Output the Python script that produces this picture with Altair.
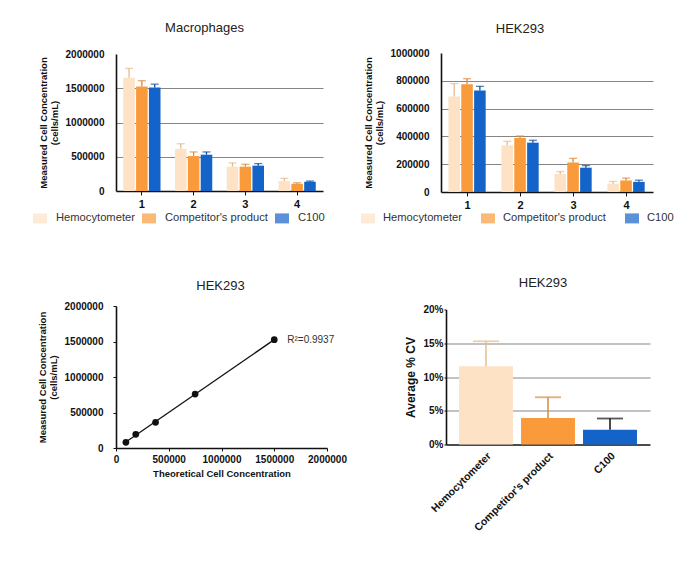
import altair as alt
import pandas as pd

FONT = "Liberation Sans"

dilutions = ["1", "2", "3", "4"]
methods = ["Hemocytometer", "Competitor's product", "C100"]
bar_colors = ["#FDE2C6", "#F99B3B", "#1463C8"]
err_colors_top = ["#E3BD8E", "#D98A3A", "#0D4C9E"]
err_colors_cv = ["#E3BD8E", "#D98A3A", "#111111"]

# Macrophages (cells/mL): mean and upper error
macro_hemo = [1655000, 615000, 355000, 145000]
macro_hemo_sd = [135000, 75000, 55000, 40000]
macro_comp = [1525000, 510000, 355000, 105000]
macro_comp_sd = [85000, 60000, 35000, 15000]
macro_c100 = [1510000, 530000, 370000, 135000]
macro_c100_sd = [50000, 40000, 30000, 10000]

# HEK293 (cells/mL)
hek_hemo = [687000, 336000, 130000, 60000]
hek_hemo_sd = [93000, 29000, 17000, 16000]
hek_comp = [775000, 389000, 213000, 83000]
hek_comp_sd = [40000, 14000, 29000, 17000]
hek_c100 = [730000, 355000, 175000, 73000]
hek_c100_sd = [30000, 17000, 15000, 12000]

# Linearity HEK293
theoretical = [93750, 187500, 375000, 750000, 1500000]
measured = [80000, 192000, 361000, 760000, 1526000]
r2_label = "R²=0.9937"

# Average % CV
cv_mean = [0.116, 0.0394, 0.022]
cv_sd = [0.037, 0.0306, 0.0165]


def bar_frame(means, sds):
    rows = []
    for mi, (m, s) in enumerate(zip(means, sds)):
        for di, d in enumerate(dilutions):
            rows.append({"dilution": d, "method": methods[mi], "value": m[di],
                         "upper": m[di] + s[di], "ecolor": err_colors_top[mi]})
    return pd.DataFrame(rows)


def grouped_panel(df, title, ymax, ystep, width, height, title_dx, title_offset,
                  legend_x, legend_y, col_pad, label_offset):
    yvals = list(range(0, ymax + 1, ystep))
    yaxis = alt.Axis(values=yvals, tickCount=len(yvals), format="d", ticks=False, labelPadding=12,
                     title=["Measured Cell Concentration", "(cells/mL)"],
                     titleLineHeight=11, titlePadding=6,
                     grid=True, gridColor="#858585", gridWidth=1.2,
                     gridOpacity={"condition": {"test": f"datum.value == 0 || datum.value >= {ymax}", "value": 0}, "value": 1})
    yscale = alt.Scale(domain=[0, ymax], nice=False)
    base = alt.Chart(df).encode(
        x=alt.X("dilution:N", sort=dilutions,
                scale=alt.Scale(paddingInner=0.28, paddingOuter=0.14),
                axis=alt.Axis(title=None, labelAngle=0, labelFontSize=11, ticks=True,
                              tickSize=4, tickColor="#111", labelPadding=3, grid=False)),
        xOffset=alt.XOffset("method:N", sort=methods, scale=alt.Scale(paddingInner=0.1)),
    )
    bars = base.mark_bar().encode(
        y=alt.Y("value:Q", scale=yscale, axis=yaxis),
        color=alt.Color("method:N", sort=methods,
                        scale=alt.Scale(domain=methods, range=bar_colors),
                        legend=alt.Legend(orient="none", legendX=legend_x, legendY=legend_y,
                                          direction="horizontal", columns=3, title=None,
                                          symbolType="M-1,-0.714H1V0.714H-1Z", symbolSize=196,
                                          symbolStrokeWidth=0, symbolOpacity=1,
                                          labelFontSize=11.2,
                                          labelFontWeight="normal", labelColor="#333",
                                          labelOffset=label_offset, columnPadding=col_pad)),
    )
    rules = base.mark_rule(strokeWidth=1.3).encode(
        y="value:Q", y2="upper:Q", color=alt.Color("ecolor:N", scale=None))
    caps = base.mark_tick(thickness=1.3, size=8).encode(
        y="upper:Q", color=alt.Color("ecolor:N", scale=None))
    return alt.layer(bars, rules, caps).properties(
        width=width, height=height,
        title=alt.TitleParams(title, fontSize=13, fontWeight="normal", color="#222",
                              frame="group", dx=title_dx, offset=title_offset))


macro_df = bar_frame([macro_hemo, macro_comp, macro_c100],
                     [macro_hemo_sd, macro_comp_sd, macro_c100_sd])
hek_df = bar_frame([hek_hemo, hek_comp, hek_c100],
                   [hek_hemo_sd, hek_comp_sd, hek_c100_sd])

p1 = grouped_panel(macro_df, "Macrophages", 2000000, 500000, 207, 137, -15, 14,
                   -83, 157, 7, 9)
p2 = grouped_panel(hek_df, "HEK293", 1000000, 200000, 212, 139, -27, 12,
                   -80, 158, 19, 8)

# Scatter / linearity
lin_df = pd.DataFrame({"theo": theoretical, "meas": measured})
lbl_df = pd.DataFrame({"theo": [theoretical[-1]], "meas": [measured[-1]], "label": [r2_label]})
xs = alt.Scale(domain=[0, 2000000], nice=False)
ys = alt.Scale(domain=[0, 2000000], nice=False)
ticks_vals = [0, 500000, 1000000, 1500000, 2000000]
lin_base = alt.Chart(lin_df)
line = lin_base.transform_regression("theo", "meas").mark_line(color="#111", strokeWidth=1.3).encode(
    x=alt.X("theo:Q", scale=xs,
            axis=alt.Axis(values=ticks_vals, tickCount=len(ticks_vals), format="d",
                          title="Theoretical Cell Concentration", labelFlush=False,
                          tickSize=3, labelPadding=3, grid=False, titlePadding=4)),
    y=alt.Y("meas:Q", scale=ys,
            axis=alt.Axis(values=ticks_vals, tickCount=len(ticks_vals), format="d", grid=False,
                          tickSize=3, labelPadding=10, labelFlush=False,
                          title=["Measured Cell Concentration", "(cells/mL)"],
                          titleLineHeight=11, titlePadding=6)),
)
pts = lin_base.mark_circle(color="#111", size=45, opacity=1).encode(
    x=alt.X("theo:Q", scale=xs), y=alt.Y("meas:Q", scale=ys))
r2 = alt.Chart(lbl_df).mark_text(align="left", dx=13, fontSize=10, color="#333",
                                 fontWeight="normal").encode(
    x=alt.X("theo:Q", scale=xs), y=alt.Y("meas:Q", scale=ys), text="label:N")
p3 = alt.layer(line, pts, r2).properties(
    width=211, height=142,
    title=alt.TitleParams("HEK293", fontSize=13, fontWeight="normal", color="#222",
                          frame="group", dx=-1, offset=8))

# CV bars
cv_df = pd.DataFrame({"method": methods, "cv": cv_mean,
                      "upper": [m + s for m, s in zip(cv_mean, cv_sd)],
                      "ecolor": err_colors_cv})
cv_vals = [0, 0.05, 0.1, 0.15, 0.2]
cv_base = alt.Chart(cv_df).encode(
    x=alt.X("method:N", sort=methods,
            scale=alt.Scale(paddingInner=0.13, paddingOuter=0.21),
            axis=alt.Axis(title=None, labelAngle=-45, labelFontSize=10.5, ticks=False,
                          labelPadding=6, grid=False)))
cv_bars = cv_base.mark_bar().encode(
    y=alt.Y("cv:Q", scale=alt.Scale(domain=[0, 0.2], nice=False),
            axis=alt.Axis(values=cv_vals, tickCount=len(cv_vals), format=".0%", title="Average % CV",
                          titleFontSize=12, titlePadding=5, tickSize=2, labelPadding=1,
                          labelFlush=False,
                          grid=True, gridColor="#858585", gridWidth=1.2,
                          gridOpacity={"condition": {"test": "datum.value == 0 || datum.value >= 0.2", "value": 0}, "value": 1})),
    color=alt.Color("method:N", sort=methods, scale=alt.Scale(domain=methods, range=bar_colors),
                    legend=None))
cv_rules = cv_base.mark_rule(strokeWidth=1.5).encode(
    y="cv:Q", y2="upper:Q", color=alt.Color("ecolor:N", scale=None))
cv_caps = cv_base.mark_tick(thickness=1.8, size=26).encode(
    y="upper:Q", color=alt.Color("ecolor:N", scale=None))
p4 = alt.layer(cv_bars, cv_rules, cv_caps).properties(
    width=204, height=135,
    title=alt.TitleParams("HEK293", fontSize=13, fontWeight="normal", color="#222",
                          frame="group", dx=-5, offset=15))

top = alt.hconcat(p1, p2, spacing=118, bounds="flush", center=True).resolve_scale(color="independent")
bottom = alt.hconcat(p3, p4, spacing=119, bounds="flush", center=True).resolve_scale(color="independent")

chart = alt.vconcat(top, bottom, spacing=253, bounds="flush").resolve_scale(
    color="independent"
).properties(
    padding={"left": 25, "top": 14, "right": 5, "bottom": 5},
    background="white",
).configure(font=FONT).configure_view(stroke=None).configure_axis(
    labelFont=FONT, labelFontWeight="bold", labelFontSize=10, labelColor="#111",
    titleFont=FONT, titleFontWeight="bold", titleFontSize=9.5, titleColor="#111",
    domainColor="#111", domainWidth=1.6, tickColor="#111", labelOverlap=False,
).configure_legend(labelFont=FONT).configure_title(font=FONT, anchor="middle")

chart.save("out.html", embed_options={"renderer": "svg", "actions": False})
